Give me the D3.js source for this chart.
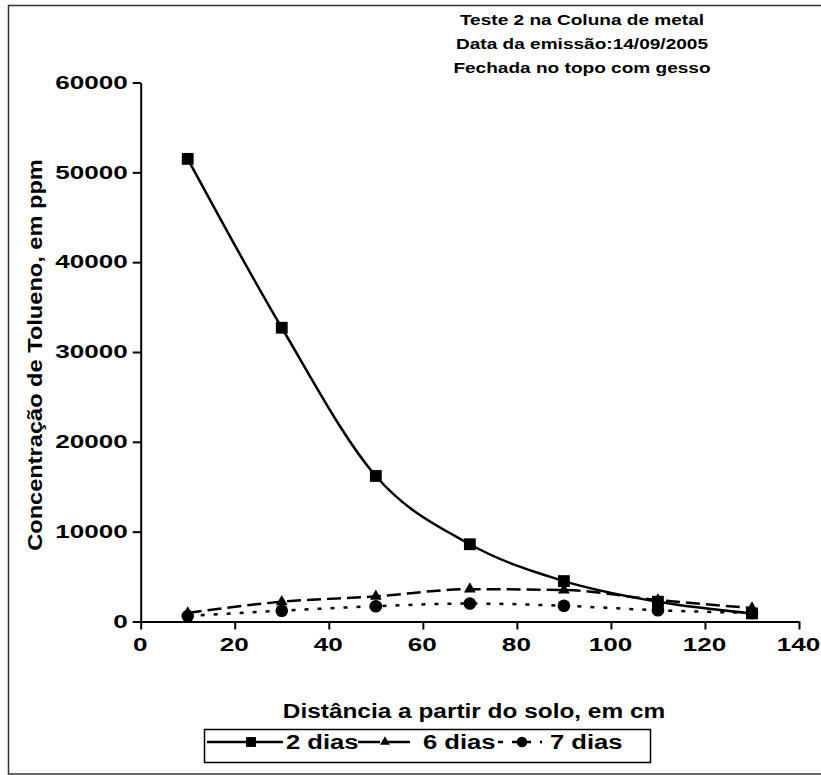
<!DOCTYPE html>
<html>
<head>
<meta charset="utf-8">
<script src="https://d3js.org/d3.v7.min.js"></script>
<style>
  body { margin: 0; background: #fff; }
  text { font-family: "Liberation Sans", Arial, sans-serif; font-weight: bold; fill: #000; }
</style>
</head>
<body>
<svg width="821" height="775"></svg>
<script>
// data
var distancias = [10, 30, 50, 70, 90, 110, 130];
var dias2 = [51500, 32700, 16200, 8600, 4500, 2200, 900];
var dias6 = [950, 2200, 2800, 3600, 3500, 2400, 1500];
var dias7 = [600, 1200, 1700, 2000, 1750, 1250, 950];
var xTicks = [0, 20, 40, 60, 80, 100, 120, 140];
var yTicks = [0, 10000, 20000, 30000, 40000, 50000, 60000];
var titulo = ["Teste 2 na Coluna de metal", "Data da emissão:14/09/2005", "Fechada no topo com gesso"];
var legendNames = ["2 dias", "6 dias", "7 dias"];

var svg = d3.select("svg");

// the chart's lettering is stretched sideways, so widen the glyphs
function widen(sel, f) {
    sel.each(function () {
        var w = this.getComputedTextLength();
        d3.select(this).attr("textLength", w * f).attr("lengthAdjust", "spacingAndGlyphs");
    });
}

// outer frame
svg.append("rect")
    .attr("x", 8.5).attr("y", 5.5)
    .attr("width", 830).attr("height", 768.5)
    .attr("fill", "none").attr("stroke", "#333").attr("stroke-width", 1.5);

var x = d3.scaleLinear().domain([0, 140]).range([140.7, 799]);
var y = d3.scaleLinear().domain([0, 60000]).range([621.5, 82.5]);

var xAxis = svg.append("g")
    .attr("transform", "translate(0," + y(0) + ")")
    .call(d3.axisBottom(x).tickValues(xTicks).tickSizeInner(8).tickSizeOuter(0).tickPadding(9));
var yAxis = svg.append("g")
    .attr("transform", "translate(" + x(0) + ",0)")
    .call(d3.axisLeft(y).tickValues(yTicks).tickSizeInner(8).tickSizeOuter(0).tickFormat(d3.format("d")));

var sx = 1.45;
[xAxis, yAxis].forEach(function (g) {
    g.select(".domain").attr("stroke", "#000").attr("stroke-width", 2);
    g.selectAll(".tick line").attr("stroke", "#000").attr("stroke-width", 2);
    g.selectAll(".tick text")
        .style("font-family", "Liberation Sans, Arial, sans-serif")
        .style("font-weight", "bold")
        .style("font-size", "18px")
        .attr("fill", "#000");
});
xAxis.selectAll(".tick text")
    .attr("y", 17).attr("dy", "0.71em")
    .attr("x", -1 / sx)
    .attr("transform", "scale(" + sx + ",1)");
yAxis.selectAll(".tick text")
    .attr("x", -13 / sx)
    .attr("transform", "scale(" + sx + ",1)");

// title
var tt = svg.append("g").selectAll("text")
    .data(titulo)
    .enter()
    .append("text")
    .attr("x", 582)
    .attr("y", function (d, i) { return 25 + i * 24; })
    .attr("text-anchor", "middle")
    .style("font-size", "15px")
    .text(function (d) { return d; });
widen(tt, 1.27);

// axis titles
var xt = svg.append("text")
    .attr("x", 474).attr("y", 718)
    .attr("text-anchor", "middle")
    .style("font-size", "20px")
    .text("Distância a partir do solo, em cm");
widen(xt, 1.22);

var yt = svg.append("text")
    .attr("transform", "translate(42,355) rotate(-90)")
    .attr("text-anchor", "middle")
    .style("font-size", "20px")
    .text("Concentração de Tolueno, em ppm");
widen(yt, 1.18);

// series
var series = [
    {name: legendNames[0], values: dias2, dash: null, marker: d3.symbolSquare, size: 140},
    {name: legendNames[1], values: dias6, dash: "14,6", marker: d3.symbolTriangle, size: 60},
    {name: legendNames[2], values: dias7, dash: "4,9", marker: d3.symbolCircle, size: 125}
];

var line = d3.line()
    .x(function (d, i) { return x(distancias[i]); })
    .y(function (d) { return y(d); })
    .curve(d3.curveMonotoneX);

series.forEach(function (s) {
    svg.append("path")
        .datum(s.values)
        .attr("d", line)
        .attr("fill", "none")
        .attr("stroke", "#000")
        .attr("stroke-width", 2.5)
        .attr("stroke-dasharray", s.dash);
});
series.forEach(function (s) {
    svg.append("g").selectAll("path")
        .data(s.values)
        .enter()
        .append("path")
        .attr("transform", function (d, i) { return "translate(" + x(distancias[i]) + "," + y(d) + ")"; })
        .attr("d", d3.symbol().type(s.marker).size(s.size))
        .attr("fill", "#000");
});

// legend
var legend = svg.append("g");
legend.append("rect")
    .attr("x", 204.5).attr("y", 729.5)
    .attr("width", 446).attr("height", 33)
    .attr("fill", "#fff").attr("stroke", "#000").attr("stroke-width", 1.5);

var legendX = [207, 358, 498];
var legendW = [76, 52, 44];
var legendMark = [251, 385, 522];
var legendDash = [null, "22,8", "5,9"];
var legendTextX = [286, 423, 550];
series.forEach(function (s, i) {
    legend.append("line")
        .attr("x1", legendX[i]).attr("x2", legendX[i] + legendW[i])
        .attr("y1", 742).attr("y2", 742)
        .attr("stroke", "#000").attr("stroke-width", 2.5)
        .attr("stroke-dasharray", legendDash[i]);
    legend.append("path")
        .attr("transform", "translate(" + legendMark[i] + ",742)")
        .attr("d", d3.symbol().type(s.marker).size(s.size * 0.7))
        .attr("fill", "#000");
    var lt = legend.append("text")
        .attr("x", legendTextX[i])
        .attr("y", 749)
        .style("font-size", "20px")
        .text(s.name);
    widen(lt, 1.28);
});
</script>
</body>
</html>
